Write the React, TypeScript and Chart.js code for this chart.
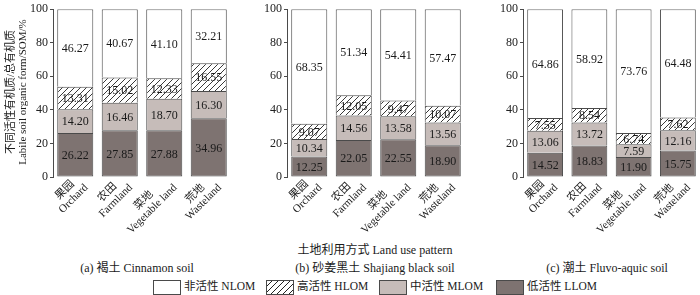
import React, { useEffect, useRef } from 'react';
import { Chart, registerables } from 'chart.js';
Chart.register(...registerables);

const cnLabels = ['果园', '农田', '菜地', '荒地'];
const enLabels = ['Orchard', 'Farmland', 'Vegetable land', 'Wasteland'];
const seriesNames = ['低活性 LLOM', '中活性 MLOM', '高活性 HLOM', '非活性 NLOM'];

// (a) Cinnamon soil
const cinnamonLLOM = [26.22, 27.85, 27.88, 34.96];
const cinnamonMLOM = [14.2, 16.46, 18.7, 16.3];
const cinnamonHLOM = [13.31, 15.02, 12.33, 16.55];
const cinnamonNLOM = [46.27, 40.67, 41.1, 32.21];
// (b) Shajiang black soil
const shajiangLLOM = [12.25, 22.05, 22.55, 18.9];
const shajiangMLOM = [10.34, 14.56, 13.58, 13.56];
const shajiangHLOM = [9.07, 12.05, 9.47, 10.07];
const shajiangNLOM = [68.35, 51.34, 54.41, 57.47];
// (c) Fluvo-aquic soil
const fluvoLLOM = [14.52, 18.83, 11.9, 15.75];
const fluvoMLOM = [13.06, 13.72, 7.59, 12.16];
const fluvoHLOM = [7.55, 8.54, 6.74, 7.62];
const fluvoNLOM = [64.86, 58.92, 73.76, 64.48];

const yMin = 0;
const yMax = 100;
const yStep = 20;

const panelCaptions = ['(a) 褐土 Cinnamon soil', '(b) 砂姜黑土 Shajiang black soil', '(c) 潮土 Fluvo-aquic soil'];
const xTitle = '土地利用方式 Land use pattern';
const yTitleCn = '不同活性有机质/总有机质';
const yTitleEn = 'Labile soil organic form/SOM/%';

const SERIF = "'Liberation Serif', 'Noto Sans CJK SC', serif";
const DARK = '#7e7371';
const LIGHT = '#c6bcb9';
const EDGE = '#4a4a4a';

function makeHatch(): CanvasPattern | string {
  const c = document.createElement('canvas');
  c.width = 6;
  c.height = 6;
  const g = c.getContext('2d');
  if (!g) return '#fff';
  g.fillStyle = '#fff';
  g.fillRect(0, 0, 6, 6);
  g.strokeStyle = '#222';
  g.lineWidth = 0.9;
  g.beginPath();
  g.moveTo(0, 6);
  g.lineTo(6, 0);
  g.moveTo(-1, 1);
  g.lineTo(1, -1);
  g.moveTo(5, 7);
  g.lineTo(7, 5);
  g.stroke();
  return g.createPattern(c, 'repeat') || '#fff';
}

const segLabelPlugin = {
  id: 'segLabels',
  afterDatasetsDraw(chart: any) {
    const ctx = chart.ctx;
    ctx.save();
    ctx.font = '12px ' + SERIF;
    ctx.fillStyle = '#1a1a1a';
    ctx.textAlign = 'center';
    ctx.textBaseline = 'middle';
    chart.data.datasets.forEach((ds: any, di: number) => {
      const meta = chart.getDatasetMeta(di);
      meta.data.forEach((el: any, i: number) => {
        const v = ds.data[i] as number;
        ctx.fillText(v.toFixed(2), el.x, (el.y + el.base) / 2 + 1);
      });
    });
    ctx.restore();
  },
};

const xLabelPlugin = {
  id: 'xLabels',
  afterDraw(chart: any) {
    const ctx = chart.ctx;
    const xs = chart.scales.x;
    const area = chart.chartArea;
    const labels = chart.data.labels as string[][];
    ctx.save();
    ctx.font = '11px ' + SERIF;
    ctx.fillStyle = '#1a1a1a';
    ctx.textAlign = 'center';
    ctx.textBaseline = 'middle';
    labels.forEach((lines, i) => {
      const x = xs.getPixelForValue(i);
      const w = Math.max(...lines.map((l) => ctx.measureText(l).width));
      ctx.save();
      ctx.translate(x + 11, area.bottom + 9);
      ctx.rotate(-Math.PI / 4);
      ctx.fillText(lines[1], -w / 2, 0);
      ctx.fillText(lines[0], -w / 2, -12);
      ctx.restore();
    });
    ctx.restore();
  },
};

type PanelProps = {
  left: number;
  width: number;
  axisW: number;
  padRight: number;
  llom: number[];
  mlom: number[];
  hlom: number[];
  nlom: number[];
};

function Panel({ left, width, axisW, padRight, llom, mlom, hlom, nlom }: PanelProps) {
  const ref = useRef<HTMLCanvasElement | null>(null);
  useEffect(() => {
    if (!ref.current) return;
    const hatch = makeHatch();
    const series = [llom, mlom, hlom, nlom];
    const fills: any[] = [DARK, LIGHT, hatch, '#ffffff'];
    const chart = new Chart(ref.current, {
      type: 'bar',
      data: {
        labels: cnLabels.map((c, i) => [c, enLabels[i]]),
        datasets: series.map((d, si) => ({
          label: seriesNames[si],
          data: d,
          backgroundColor: fills[si],
          borderColor: EDGE,
          borderWidth: { top: 1, left: 1, right: 1, bottom: si === 0 ? 1 : 0 },
          borderSkipped: false,
          barPercentage: 0.81,
          categoryPercentage: 1,
        })),
      },
      options: {
        responsive: false,
        animation: false,
        events: [],
        layout: { padding: { top: 6, bottom: 63, left: 0, right: padRight } },
        plugins: { legend: { display: false }, tooltip: { enabled: false }, title: { display: false } },
        scales: {
          x: { stacked: true, display: false, offset: true },
          y: {
            stacked: true,
            min: yMin,
            max: yMax,
            ticks: { stepSize: yStep, font: { family: SERIF, size: 12 }, color: '#222', padding: 2 },
            grid: { drawOnChartArea: false, tickLength: 3, color: EDGE },
            border: { color: EDGE, width: 1 },
            afterFit(s: any) {
              s.width = axisW;
            },
          },
        },
      } as any,
      plugins: [segLabelPlugin, xLabelPlugin],
    });
    return () => chart.destroy();
  }, []);
  return (
    <canvas
      ref={ref}
      width={width}
      height={240}
      style={{ position: 'absolute', left, top: 0, width, height: 240 }}
    />
  );
}

const textStyle = (size: number): React.CSSProperties => ({
  position: 'absolute',
  whiteSpace: 'nowrap',
  fontFamily: SERIF,
  fontSize: size,
  color: '#1a1a1a',
  lineHeight: 1,
});

export default function App() {
  const legendItems = [
    { name: seriesNames[3], box: 153, fill: '#fff' },
    { name: seriesNames[2], box: 266, fill: 'repeating-linear-gradient(135deg, #fff 0px, #fff 3.2px, #222 3.2px, #222 4.2px)' },
    { name: seriesNames[1], box: 379, fill: LIGHT },
    { name: seriesNames[0], box: 496, fill: DARK },
  ];
  return (
    <div style={{ position: 'relative', width: 700, height: 295, overflow: 'hidden', background: '#fff' }}>
      <style>{'body{margin:0}'}</style>
      <Panel left={0} width={235} axisW={53} padRight={4} llom={cinnamonLLOM} mlom={cinnamonMLOM} hlom={cinnamonHLOM} nlom={cinnamonNLOM} />
      <Panel left={257} width={213} axisW={30} padRight={5} llom={shajiangLLOM} mlom={shajiangMLOM} hlom={shajiangHLOM} nlom={shajiangNLOM} />
      <Panel left={493} width={207} axisW={30} padRight={0} llom={fluvoLLOM} mlom={fluvoMLOM} hlom={fluvoHLOM} nlom={fluvoNLOM} />
      <div style={{ ...textStyle(11), left: 10, top: 92, transform: 'translate(-50%,-50%) rotate(-90deg)' }}>{yTitleCn}</div>
      <div style={{ ...textStyle(11), left: 22, top: 92, transform: 'translate(-50%,-50%) rotate(-90deg)' }}>{yTitleEn}</div>
      <div style={{ ...textStyle(12), left: 375, top: 250, transform: 'translate(-50%,-50%)' }}>{xTitle}</div>
      <div style={{ ...textStyle(12), left: 137, top: 268, transform: 'translate(-50%,-50%)' }}>{panelCaptions[0]}</div>
      <div style={{ ...textStyle(12), left: 375, top: 268, transform: 'translate(-50%,-50%)' }}>{panelCaptions[1]}</div>
      <div style={{ ...textStyle(12), left: 607, top: 268, transform: 'translate(-50%,-50%)' }}>{panelCaptions[2]}</div>
      {legendItems.map((it) => (
        <React.Fragment key={it.name}>
          <div
            style={{
              position: 'absolute',
              left: it.box,
              top: 280,
              width: 26,
              height: 13,
              border: '1px solid ' + EDGE,
              background: it.fill,
            }}
          />
          <div style={{ ...textStyle(11.5), left: it.box + 31, top: 287, transform: 'translateY(-50%)' }}>{it.name}</div>
        </React.Fragment>
      ))}
    </div>
  );
}
